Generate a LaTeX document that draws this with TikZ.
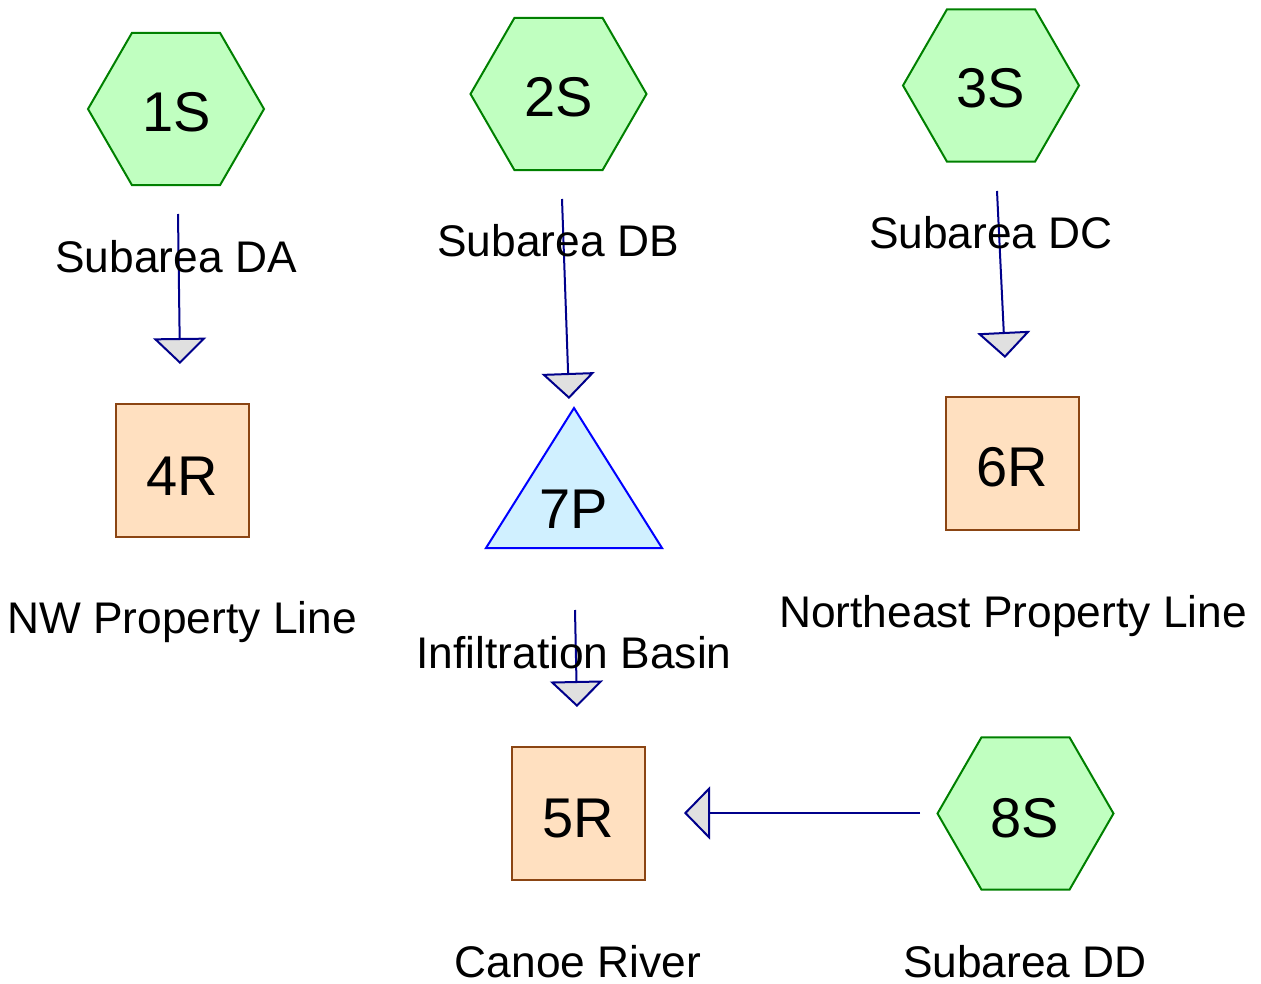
\documentclass[tikz,border=0pt]{standalone}
\usepackage{fontspec}
\setmainfont{Liberation Sans}
\usetikzlibrary{shapes.geometric,arrows.meta}
\definecolor{hexfill}{RGB}{192,255,192}
\definecolor{hexdraw}{RGB}{0,128,0}
\definecolor{boxfill}{RGB}{255,224,192}
\definecolor{boxdraw}{RGB}{139,69,19}
\definecolor{pondfill}{RGB}{208,240,255}
\definecolor{ponddraw}{RGB}{0,0,255}
\definecolor{linkcol}{RGB}{0,0,139}
\definecolor{headfill}{RGB}{224,224,224}
\tikzset{
  hexnode/.style={regular polygon,regular polygon sides=6,minimum size=176pt,inner sep=0pt,outer sep=0pt,fill=hexfill,draw=hexdraw,line width=2pt},
  boxnode/.style={rectangle,minimum size=133pt,inner sep=0pt,outer sep=0pt,fill=boxfill,draw=boxdraw,line width=2pt},
  bigtxt/.style={font=\fontsize{56}{62}\selectfont,anchor=base,inner sep=0pt},
  smalltxt/.style={font=\fontsize{44.3}{50}\selectfont,anchor=base,inner sep=0pt},
  link/.style={draw=linkcol,line width=2pt,-{Triangle[width=53pt,length=26pt,fill=headfill,line width=2pt]}}
}
\begin{document}
\begin{tikzpicture}[x=1pt,y=-1pt]
\useasboundingbox (0,0) rectangle (1261,984);
% shapes
\node[hexnode] (h1) at (176,109) {};
\node[hexnode] (h2) at (558.5,94) {};
\node[hexnode] (h3) at (991,85.5) {};
\node[hexnode] (h8) at (1025.5,813.5) {};
\node[boxnode] (b4) at (182.5,470.5) {};
\node[boxnode] (b5) at (578,813.5) {};
\node[boxnode] (b6) at (1012.5,463.5) {};
\coordinate (p7) at (574,478);
\draw[fill=pondfill,draw=ponddraw,line width=2pt,line join=miter] (574,408) -- (662,548) -- (486,548) -- cycle;
% connectors
\coordinate (s1) at (178,214);
\coordinate (e1) at (180,364);
\coordinate (s2) at (562,199);
\coordinate (e2) at (569,399);
\coordinate (s3) at (997,191);
\coordinate (e3) at (1005,358);
\coordinate (s7) at (575,610);
\coordinate (e7) at (577,707);
\coordinate (s8) at (920,813);
\coordinate (e8) at (684,813);
\draw[link] (s1) -- (e1);
\draw[link] (s2) -- (e2);
\draw[link] (s3) -- (e3);
\draw[link] (s7) -- (e7);
\draw[link] (s8) -- (e8);
% labels
\node[bigtxt] (t1) at (177,132) {1S};
\node[bigtxt] (t2) at (559,117) {2S};
\node[bigtxt] (t3) at (991,108) {3S};
\node[bigtxt] (t8) at (1025,837) {8S};
\node[bigtxt] (t4) at (182,495) {4R};
\node[bigtxt] (t5) at (578,837) {5R};
\node[bigtxt] (t6) at (1012,486) {6R};
\node[bigtxt] (t7) at (574,528) {7P};
\node[smalltxt] (l1) at (176,273) {Subarea DA};
\node[smalltxt] (l2) at (558,257) {Subarea DB};
\node[smalltxt] (l3) at (991,249) {Subarea DC};
\node[smalltxt] (l4) at (182,633) {NW Property Line};
\node[smalltxt] (l7) at (574,668) {Infiltration Basin};
\node[smalltxt] (l6) at (1013,627) {Northeast Property Line};
\node[smalltxt] (l5) at (578,977) {Canoe River};
\node[smalltxt] (l8) at (1025,977) {Subarea DD};
\end{tikzpicture}
\end{document}
